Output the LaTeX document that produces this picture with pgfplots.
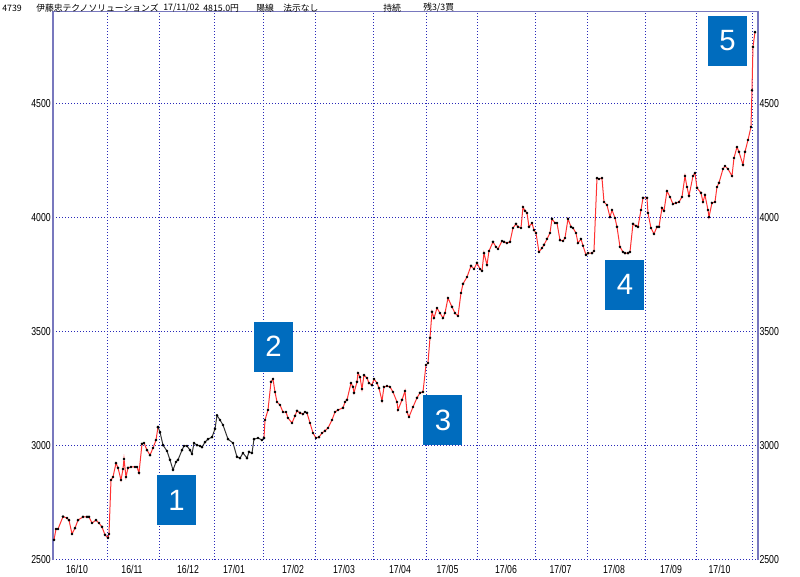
\documentclass[border=0pt]{standalone}
\usepackage{pgfplots}
\pgfplotsset{compat=1.18}
\usepackage{fontspec}
\setmainfont{Liberation Sans}
\newfontfamily\jp{Noto Sans CJK JP}
\newfontfamily\narrow[FakeStretch=0.76]{Liberation Sans}
\definecolor{gridblue}{RGB}{40,40,185}
\definecolor{framec}{RGB}{120,120,190}
\definecolor{linered}{RGB}{255,50,50}
\definecolor{badge}{RGB}{0,108,190}
\tikzset{badgestyle/.style={fill=badge, text=white, minimum width=29.25pt, minimum height=37.5pt, inner sep=0pt, font=\fontsize{22}{22}\selectfont}}
\pgfplotsset{
  common/.style={
    at={(39.75pt,12.75pt)}, anchor=south west,
    scale only axis, width=528.5pt, height=411.4pt,
    xmin=53, xmax=757.7, ymin=2500, ymax=4905.7,
    ytick={2500,3000,3500,4000,4500},
    yticklabels={2500,3000,3500,4000,4500},
    major tick length=0pt, minor tick length=0pt,
    tick label style={font=\narrow\fontsize{8.6}{9}\selectfont, text=black},
  },
  series/.style={line width=0.75pt, mark=*, mark size=0.55pt, mark options={solid, fill=black, draw=black}},
}
\begin{document}
\begin{tikzpicture}[x=0.75pt,y=0.75pt]
\path[use as bounding box] (0,0) rectangle (800,577);
\begin{axis}[common,
  clip=false,
  axis line style={draw=none},
  xtick={77,132,188,234,293,344,400,447.5,506,560.5,614,671,719.5},
  xticklabels={16/10,16/11,16/12,17/01,17/02,17/03,17/04,17/05,17/06,17/07,17/08,17/09,17/10},
  minor xtick={107.7,160,214.3,263.3,316,374,426.3,477.7,535.5,588,645.5,697,752.7},
  xminorgrids=true, xmajorgrids=false, ymajorgrids=true,
  grid style={gridblue, line width=0.75pt, dash pattern=on 0.75pt off 1.5pt},
  minor grid style={gridblue, line width=0.75pt, dash pattern=on 0.75pt off 1.5pt},
  yticklabel style={inner sep=1.5pt},
  xticklabel style={inner sep=1.5pt, yshift=-2.5pt},
]
\draw[framec, line width=1.6pt] (rel axis cs:0,0) -- (rel axis cs:0,1);
\draw[framec, line width=1.6pt] (rel axis cs:1,0) -- (rel axis cs:1,1);
\draw[framec, line width=1.2pt] (rel axis cs:0,1) -- (rel axis cs:1,1);
% rising period (red)
\addplot[series, linered] coordinates {
(54,2588)(56,2636)(58,2636)(63,2690)(67,2684)(69,2675)(72,2614)(75,2640)(78,2675)(83,2689)
(87,2689)(89,2689)(92,2662)(96,2675)(99,2662)(102,2645)(105,2610)(108,2597)(109,2614)(111,2851)
(113,2864)(116,2925)(118,2904)(121,2851)(123,2899)(124,2943)(126,2864)(128,2904)(131,2908)(135,2908)
(137,2908)(139,2882)(142,3009)(144,3013)(147,2982)(150,2960)(153,2991)(156,3026)(158,3083)
};
% black period
\addplot[series, black!80] coordinates {
(158,3083)(160,3061)(163,3004)(167,2978)(170,2939)(173,2895)(176,2930)(178,2939)(182,2982)(184,3000)
(187,3000)(190,2982)(192,2965)(194,3013)(197,3004)(200,3000)(202,2995)(205,3017)(208,3030)(212,3039)
(215,3075)(217,3134)(220,3114)(223,3092)(228,3030)(233,3013)(237,2952)(240,2947)(243,2969)(247,2947)
(249,2974)(252,2969)(254,3030)(258,3035)(262,3026)(264,3035)
};
% red period
\addplot[series, linered] coordinates {
(264,3035)(265,3114)(268,3158)(271,3281)(273,3294)(275,3237)(277,3193)(280,3180)(283,3149)(286,3149)
(288,3123)(292,3101)(295,3132)(297,3154)(300,3145)(303,3140)(305,3149)(307,3145)(310,3101)(313,3057)
(316,3035)(319,3039)(322,3057)(325,3066)(328,3079)(332,3114)(335,3149)(338,3158)(343,3167)(345,3193)
(347,3202)(351,3276)(353,3259)(354,3233)(357,3281)(358,3320)(360,3302)(362,3250)(364,3311)(367,3298)
(369,3276)(372,3267)(374,3294)(377,3276)(379,3254)(382,3198)(384,3259)(387,3263)(390,3259)(393,3237)
(397,3193)(398,3158)(402,3202)(405,3241)(407,3149)(409,3127)(413,3171)(417,3211)(420,3233)(423,3237)
(426,3355)(428,3364)(430,3474)(432,3588)(434,3561)(437,3605)(440,3583)(443,3561)(445,3583)(448,3649)
(452,3610)(455,3583)(458,3570)(461,3671)(463,3711)(467,3741)(471,3790)(474,3776)(477,3803)(480,3776)
(482,3768)(484,3846)(487,3794)(489,3855)(493,3895)(496,3873)(498,3864)(502,3899)(504,3895)(507,3890)
(510,3895)(513,3956)(516,3974)(518,3961)(521,3956)(523,4048)(525,4031)(527,4022)(529,3961)(532,3978)
(534,3947)(536,3934)(539,3851)(542,3868)(544,3882)(547,3908)(550,3934)(552,3996)(555,3978)(557,3978)
(560,3903)(563,3899)(565,3912)(568,3996)(571,3961)(573,3956)(576,3934)(578,3890)(581,3908)(583,3878)
(586,3838)(588,3846)(592,3846)(594,3855)(597,4175)(599,4171)(602,4175)(604,4070)(607,4057)(610,4004)
(612,4035)(615,4000)(617,3961)(620,3873)(623,3851)(625,3846)(628,3846)(630,3851)(633,3974)(636,3965)
(638,3961)(641,4035)(643,4088)(647,4088)(648,4022)(651,3956)(654,3930)(657,3961)(659,3961)(662,4044)
(664,4031)(667,4118)(670,4092)(673,4061)(676,4066)(679,4070)(682,4092)(685,4184)(687,4136)(689,4097)
(693,4184)(695,4197)(697,4132)(701,4110)(703,4070)(705,4101)(708,4035)(709,4004)(712,4066)(715,4070)
(717,4136)(719,4154)(723,4215)(725,4228)(728,4215)(732,4184)(734,4263)(737,4311)(739,4290)(743,4233)
(745,4290)(748,4342)(751,4399)(752,4560)(753,4750)(755,4815)
};
\node[badgestyle] at (axis cs:176.5,2763) {1};
\node[badgestyle] at (axis cs:273.5,3436) {2};
\node[badgestyle] at (axis cs:443,3114) {3};
\node[badgestyle] at (axis cs:625,3708) {4};
\node[badgestyle] at (axis cs:727.5,4776) {5};
\end{axis}
\begin{axis}[common,
  hide x axis,
  axis y line*=right,
  y axis line style={draw=none},
  yticklabel style={inner sep=1.2pt},
]
\addplot[draw=none] coordinates {(60,3000)};
\end{axis}
\begin{scope}[every node/.style={anchor=west, inner sep=0pt, font=\jp\fontsize{6.6}{7}\selectfont}]
\node at (2,569) {4739};
\node at (36,569) {伊藤忠テクノソリューションズ};
\node at (163,569) {17/11/02};
\node at (203,569) {4815.0円};
\node at (256,569) {陽線};
\node at (283,569) {法示なし};
\node at (383,569) {持続};
\node at (423,569) {残3/3買};
\end{scope}
\end{tikzpicture}
\end{document}
